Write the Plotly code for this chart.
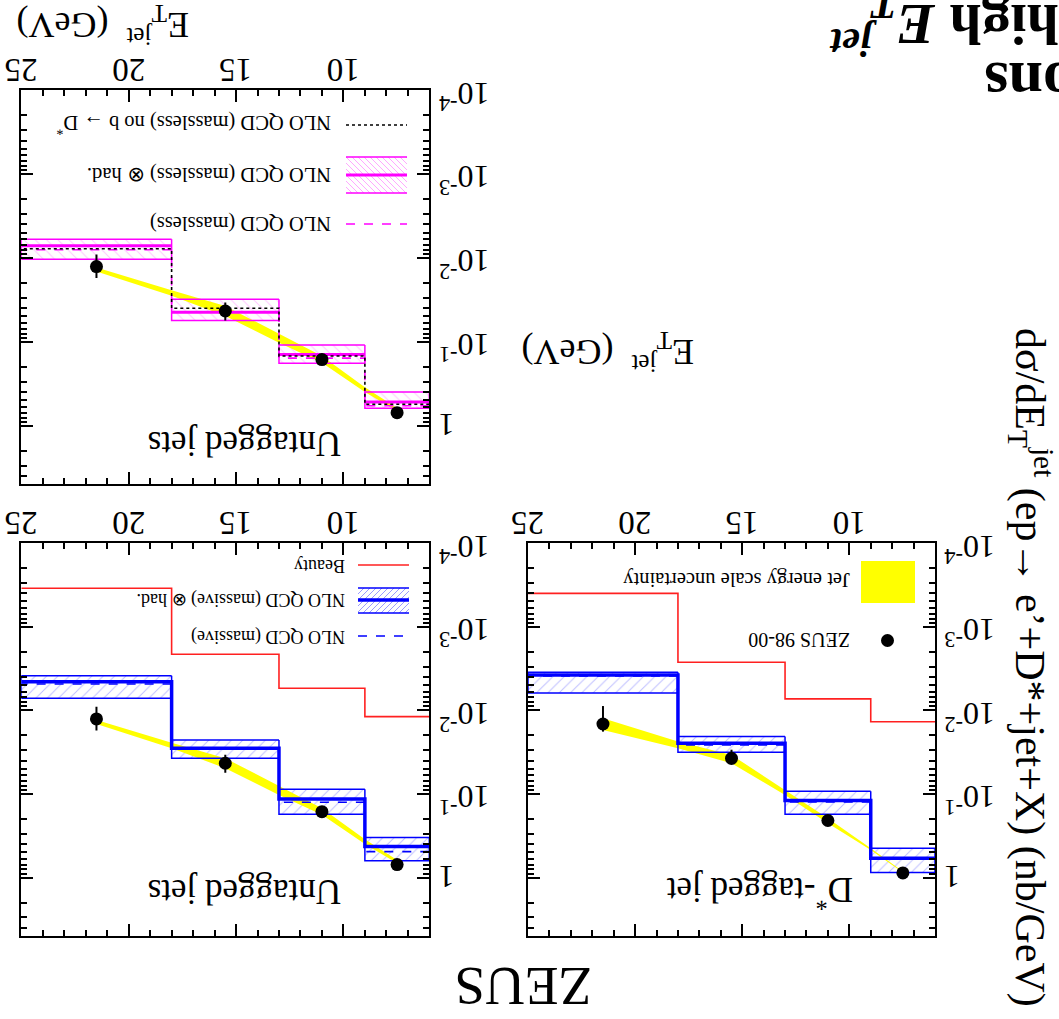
import numpy as np
import plotly.graph_objects as go

W, H = 1059, 1019
def PX(x): return x / W
def PY(y): return 1 - y / H

# ---------------- data ----------------
edges = [6, 9, 13, 18, 25]
x_data = [7.5, 11.0, 15.5, 21.5]

# D*-tagged jet
dstar_y = [0.88, 0.208, 0.0375, 0.0146]
dstar_lo = [0.84, 0.192, 0.0296, 0.0089]
dstar_hi = [0.92, 0.225, 0.0449, 0.018]
dstar_nlo_had = [0.587, 0.12, 0.0248, 0.00379]
dstar_nlo_band_lo = [0.445, 0.093, 0.0206, 0.00351]
dstar_nlo_band_hi = [0.871, 0.175, 0.0318, 0.0062]
dstar_nlo = [0.59, 0.125, 0.026, 0.0039]
dstar_beauty = [0.0137, 0.0073, 0.00267, 0.0004]

# Untagged jets
untag_y = [0.70, 0.163, 0.043, 0.0127]
untag_lo = [0.667, 0.150, 0.034, 0.0091]
untag_hi = [0.735, 0.177, 0.0557, 0.0174]
# massive
untag_nlo_had = [0.426, 0.115, 0.0284, 0.00455]
untag_nlo_band_lo = [0.333, 0.088, 0.0226, 0.00386]
untag_nlo_band_hi = [0.63, 0.175, 0.0375, 0.0072]
untag_nlo = [0.49, 0.126, 0.029, 0.00485]
untag_beauty = [0.0119, 0.00546, 0.00214, 0.000348]
# massless
ml_had = [0.522, 0.142, 0.0445, 0.0072]
ml_band_lo = [0.396, 0.109, 0.0311, 0.006]
ml_band_hi = [0.62, 0.18, 0.056, 0.0104]
ml_nlo = [0.58, 0.157, 0.0445, 0.008]
ml_nob = [0.556, 0.148, 0.0399, 0.0078]

# jet energy scale uncertainty bands
jes_x = [7.5, 9, 11, 13, 15.5, 18, 21.5]
dstar_jes_lo = [0.848, 0.445, 0.195, 0.0895, 0.0342, 0.0237, 0.01247]
dstar_jes_hi = [0.871, 0.467, 0.224, 0.103, 0.043, 0.0284, 0.0172]
untag_jes_lo = [0.615, 0.348, 0.148, 0.0802, 0.0375, 0.0244, 0.01306]
untag_jes_hi = [0.673, 0.396, 0.178, 0.1028, 0.0493, 0.0284, 0.01458]

x_ticks = [10, 15, 20, 25]
x_ticktext = ["10", "15", "20", "25"]
x_minor = list(range(7, 26))
y_ticks = [1e-4, 1e-3, 1e-2, 1e-1, 1]
y_ticktext = ["10<sup>-4</sup>", "10<sup>-3</sup>", "10<sup>-2</sup>", "10<sup>-1</sup>", "1"]
y_minor = [k * 10.0 ** e for e in range(-4, 1) for k in range(2, 10) if k * 10.0 ** e <= 5]

SERIF = "Liberation Serif"
BLUE = "#0000ff"
MAG = "#ff00ff"
RED = "#ff2020"
YEL = "#ffff00"

fig = go.Figure()

def add(tr, ax):
    xa = "x" if ax == 1 else f"x{ax}"
    ya = "y" if ax == 1 else f"y{ax}"
    tr.update(xaxis=xa, yaxis=ya, showlegend=False, hoverinfo="skip")
    fig.add_trace(tr)

def jes(ax, lo, hi):
    add(go.Scatter(x=jes_x + jes_x[::-1], y=lo + hi[::-1], fill="toself",
                   fillcolor=YEL, line=dict(width=0), mode="lines"), ax)

def band(ax, lo, hi, shape, fg):
    for i in range(len(lo)):
        x0, x1 = edges[i], edges[i + 1]
        add(go.Scatter(x=[x0, x1, x1, x0, x0], y=[lo[i], lo[i], hi[i], hi[i], lo[i]],
                       fill="toself", mode="lines", line=dict(width=0),
                       fillcolor="rgba(0,0,0,0)",
                       fillpattern=dict(shape=shape, fgcolor=fg, bgcolor="rgba(0,0,0,0)",
                                        size=8, solidity=0.12)), ax)

def band_outline(ax, lo, hi, color, w=1.5):
    xs, ys = [], []
    for i in range(len(lo)):
        x0, x1 = edges[i], edges[i + 1]
        xs += [x0, x1, x1, x0, x0, None]
        ys += [lo[i], lo[i], hi[i], hi[i], lo[i], None]
    add(go.Scatter(x=xs, y=ys, mode="lines", line=dict(color=color, width=w)), ax)

def step(ax, vals, color, w, dash="solid"):
    add(go.Scatter(x=edges, y=vals + [vals[-1]], mode="lines", line_shape="hv",
                   line=dict(color=color, width=w, dash=dash)), ax)

def hsegs(ax, vals, color, w, dash="solid"):
    xs, ys = [], []
    for i in range(len(vals)):
        xs += [edges[i], edges[i + 1], None]
        ys += [vals[i], vals[i], None]
    add(go.Scatter(x=xs, y=ys, mode="lines", line=dict(color=color, width=w, dash=dash)), ax)

def points(ax, y, lo, hi):
    add(go.Scatter(x=x_data, y=y, mode="markers",
                   marker=dict(color="black", size=13),
                   error_y=dict(type="data", symmetric=False,
                                array=[h - v for h, v in zip(hi, y)],
                                arrayminus=[v - l for l, v in zip(lo, y)],
                                color="black", thickness=2, width=0)), ax)

# Panel 1: D*-tagged jet
band(1, dstar_nlo_band_lo, dstar_nlo_band_hi, "/", "rgba(90,90,255,0.8)")
jes(1, dstar_jes_lo, dstar_jes_hi)
band_outline(1, dstar_nlo_band_lo, dstar_nlo_band_hi, BLUE)
step(1, dstar_beauty, RED, 1.6)
hsegs(1, dstar_nlo, BLUE, 1.6, "dash")
step(1, dstar_nlo_had, BLUE, 3.5)
points(1, dstar_y, dstar_lo, dstar_hi)

# Panel 2: Untagged jets (massive)
band(2, untag_nlo_band_lo, untag_nlo_band_hi, "/", "rgba(90,90,255,0.8)")
jes(2, untag_jes_lo, untag_jes_hi)
band_outline(2, untag_nlo_band_lo, untag_nlo_band_hi, BLUE)
step(2, untag_beauty, RED, 1.6)
hsegs(2, untag_nlo, BLUE, 1.6, "dash")
step(2, untag_nlo_had, BLUE, 3.5)
points(2, untag_y, untag_lo, untag_hi)

# Panel 3: Untagged jets (massless)
band(3, ml_band_lo, ml_band_hi, "\\", "rgba(255,110,255,0.8)")
jes(3, untag_jes_lo, untag_jes_hi)
band_outline(3, ml_band_lo, ml_band_hi, MAG)
hsegs(3, ml_had, MAG, 3)
step(3, ml_nlo, MAG, 1.6, "dash")
step(3, ml_nob, "black", 1.6, "dot")
points(3, untag_y, untag_lo, untag_hi)

# ---------------- axes ----------------
dom = {
    1: ([528, 935], [543, 936]),
    2: ([21.3, 429.3], [543, 936]),
    3: ([21.3, 429.3], [90, 484.3]),
}
ann = []
for ax, (xd, yd) in dom.items():
    xk = "xaxis" if ax == 1 else f"xaxis{ax}"
    yk = "yaxis" if ax == 1 else f"yaxis{ax}"
    ya = "y" if ax == 1 else f"y{ax}"
    xa = "x" if ax == 1 else f"x{ax}"
    fig.layout[xk] = dict(
        domain=[PX(xd[0]), PX(xd[1])], anchor=ya, range=[25, 6], side="top",
        automargin=False, showticklabels=False,
        tickvals=x_ticks, ticks="inside", ticklen=12, tickwidth=2,
        tickcolor="black", showline=True, linewidth=2, linecolor="black",
        mirror="allticks", showgrid=False, zeroline=False,
        minor=dict(tickvals=x_minor, ticks="inside", ticklen=6, tickwidth=1.5,
                   tickcolor="black", showgrid=False))
    fig.layout[yk] = dict(
        domain=[PY(yd[1]), PY(yd[0])], anchor=xa, type="log",
        range=[np.log10(5), -4], side="right", automargin=False,
        showticklabels=False,
        tickvals=y_ticks, ticks="inside", ticklen=12,
        tickwidth=2, tickcolor="black", showline=True, linewidth=2,
        linecolor="black", mirror="allticks", showgrid=False, zeroline=False,
        minor=dict(tickvals=y_minor, ticks="inside", ticklen=6, tickwidth=1.5,
                   tickcolor="black", showgrid=False))
    # tick labels (drawn upside down, as in the reference)
    for v, t in zip(x_ticks, x_ticktext):
        ann.append(dict(x=v, y=PY(yd[0] - 20), xref=xa, yref="paper", text=t,
                        showarrow=False, textangle=180, xanchor="center", yanchor="middle",
                        font=dict(family=SERIF, size=33, color="black")))
    for v, t in zip(y_ticks, y_ticktext):
        ann.append(dict(x=PX(xd[1] + 7), y=np.log10(v), xref="paper", yref=ya, text=t,
                        showarrow=False, textangle=180, xanchor="left", yanchor="middle",
                        yshift=-6 if v < 1 else 0,
                        font=dict(family=SERIF, size=32, color="black")))

# ---------------- annotations ----------------
def text(x, y, s, size, angle=180, xanchor="center", yanchor="middle", color="black", family=SERIF):
    ann.append(dict(x=PX(x), y=PY(y), xref="paper", yref="paper", text=s,
                    showarrow=False, textangle=angle, xanchor=xanchor, yanchor=yanchor,
                    font=dict(family=family, size=size, color=color)))

text(523, 987, "ZEUS", 55)
text(1031, 667, "dσ/dE<sub>T</sub><sup>jet</sup> (ep→ e’+D*+jet+X) (nb/GeV)", 42, angle=90)
text(103, 25, "E<sub>T</sub><sup>jet</sup>  (GeV)", 36)
text(608, 352, "E<sub>T</sub><sup>jet</sup>  (GeV)", 36)
text(760, 893, "D<sup>*</sup>-tagged jet", 35)
text(245, 892, "Untagged jets", 35)
text(245, 443, "Untagged jets", 35)
text(1061, 24, "<b>high <i>E</i><sub><i>T</i></sub><sup><i>jet</i></sup></b>", 58, xanchor="right")
text(1076, 84, "<b>ons</b>", 62, xanchor="right")

# legends
LG = 18
LM = 20.5
text(852, 640, "ZEUS 98-00", 20, xanchor="right")
text(852, 580, "Jet energy scale uncertainty", 20.5, xanchor="right")
text(347, 566, "Beauty", LG, xanchor="right")
text(347, 600, "NLO QCD (massive) ⊗ had.", LG, xanchor="right")
text(347, 637, "NLO QCD (massive)", LG, xanchor="right")
text(333, 125, "NLO QCD (massless) no b → D<sup>*</sup>", LM, xanchor="right")
text(333, 175, "NLO QCD (massless) ⊗ had.", LM, xanchor="right")
text(333, 224, "NLO QCD (massless)", LM, xanchor="right")

shapes = []
def line(x0, y0, x1, y1, color, w, dash="solid"):
    shapes.append(dict(type="line", xref="paper", yref="paper", x0=PX(x0), y0=PY(y0),
                       x1=PX(x1), y1=PY(y1), line=dict(color=color, width=w, dash=dash)))

def hatch(x0, x1, y0, y1, color, direction, s=6):
    if direction == "/":
        c = x0 + y0
        while c < x1 + y1:
            xa, xb = max(x0, c - y1), min(x1, c - y0)
            if xb > xa:
                line(xa, c - xa, xb, c - xb, color, 1)
            c += s
    else:
        c = x0 - y1
        while c < x1 - y0:
            xa, xb = max(x0, y0 + c), min(x1, y1 + c)
            if xb > xa:
                line(xa, xa - c, xb, xb - c, color, 1)
            c += s

# D* legend
shapes.append(dict(type="circle", xref="paper", yref="paper", x0=PX(881), x1=PX(894),
                   y0=PY(647), y1=PY(634), fillcolor="black", line=dict(width=0)))
shapes.append(dict(type="rect", xref="paper", yref="paper", x0=PX(861), x1=PX(915),
                   y0=PY(603), y1=PY(561), fillcolor=YEL, line=dict(width=0)))
# massive legend
line(358, 565, 409, 565, RED, 1.6)
hatch(358, 409, 588, 613, "rgba(90,90,255,0.6)", "/")
line(358, 588, 409, 588, BLUE, 1.5)
line(358, 613, 409, 613, BLUE, 1.5)
line(358, 600, 409, 600, BLUE, 3.5)
line(358, 636, 409, 636, BLUE, 1.6, "dash")
# massless legend
line(346, 125, 407, 125, "black", 1.6, "dot")
hatch(346, 407, 157, 193, "rgba(255,110,255,0.6)", "\\")
line(346, 157, 407, 157, MAG, 1.5)
line(346, 193, 407, 193, MAG, 1.5)
line(346, 175, 407, 175, MAG, 3)
line(346, 224, 407, 224, MAG, 1.6, "dash")

fig.update_layout(width=W, height=H, margin=dict(l=0, r=0, t=0, b=0, autoexpand=False),
                  paper_bgcolor="white", plot_bgcolor="white",
                  annotations=ann, shapes=shapes, showlegend=False)
fig.write_html("out.html")
